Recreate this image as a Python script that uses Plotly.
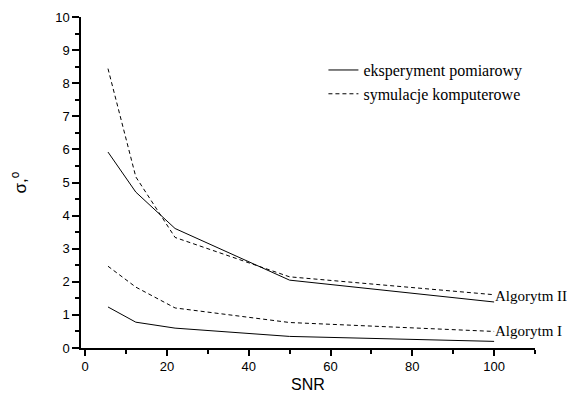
import plotly.graph_objects as go

snr = [5.6, 12.4, 22.0, 50, 100]
alg2_exp = [5.92, 4.71, 3.61, 2.05, 1.39]
alg2_sim = [8.44, 5.17, 3.34, 2.15, 1.61]
alg1_exp = [1.24, 0.78, 0.60, 0.35, 0.20]
alg1_sim = [2.47, 1.84, 1.21, 0.77, 0.50]
series_names = ["eksperyment pomiarowy", "symulacje komputerowe"]
curve_labels = ["Algorytm II", "Algorytm I"]
label_y = [1.56, 0.5]

serif = "Liberation Serif, Times New Roman, serif"
sans = "Liberation Sans, Arial, sans-serif"

fig = go.Figure()
dash_sim = "4px,3px"
fig.add_trace(go.Scatter(x=snr, y=alg2_exp, mode="lines", name=series_names[0],
                         legendgroup="exp", line=dict(color="black", width=1)))
fig.add_trace(go.Scatter(x=snr, y=alg2_sim, mode="lines", name=series_names[1],
                         legendgroup="sim", line=dict(color="black", width=1, dash=dash_sim)))
fig.add_trace(go.Scatter(x=snr, y=alg1_exp, mode="lines", name=series_names[0],
                         legendgroup="exp", showlegend=False, line=dict(color="black", width=1)))
fig.add_trace(go.Scatter(x=snr, y=alg1_sim, mode="lines", name=series_names[1],
                         legendgroup="sim", showlegend=False, line=dict(color="black", width=1, dash=dash_sim)))

for lab, ly in zip(curve_labels, label_y):
    fig.add_annotation(x=snr[-1], y=ly, text=lab, showarrow=False, xanchor="left",
                       xshift=-1, font=dict(family=serif, size=15, color="black"))

axis_common = dict(showline=True, linecolor="black", linewidth=1.5, ticks="outside",
                   tickcolor="black", tickwidth=1.5, showgrid=False, zeroline=False,
                   automargin=False,
                   tickfont=dict(family=sans, size=13, color="black"))

# page body has an 8px margin, so the figure is sized to fit the 575x400 window
fig.update_layout(
    width=567, height=392,
    margin=dict(l=73, r=40, t=9, b=52),
    plot_bgcolor="white", paper_bgcolor="white",
    xaxis=dict(range=[-1, 110], tickvals=[0, 20, 40, 60, 80, 100], ticklen=6,
               minor=dict(tickvals=[10, 30, 50, 70, 90, 110], ticklen=4, tickcolor="black", tickwidth=1.5, ticks="outside"),
               title=dict(text="SNR", font=dict(family=sans, size=16, color="black"), standoff=5),
               **axis_common),
    yaxis=dict(range=[0, 10], tickvals=list(range(0, 11)), ticklen=7,
               minor=dict(dtick=0.5, ticklen=4, tickcolor="black", tickwidth=1.5, ticks="outside"),
               title=dict(text="σ,<sup>o</sup>", font=dict(family=sans, size=17, color="black"), standoff=24),
               **axis_common),
    legend=dict(x=0.534, y=0.891, xanchor="left", yanchor="top", bgcolor="rgba(0,0,0,0)",
                font=dict(family=serif, size=16, color="black"), tracegroupgap=0,
                itemwidth=30),
    showlegend=True,
)

fig.write_html("out.html")
